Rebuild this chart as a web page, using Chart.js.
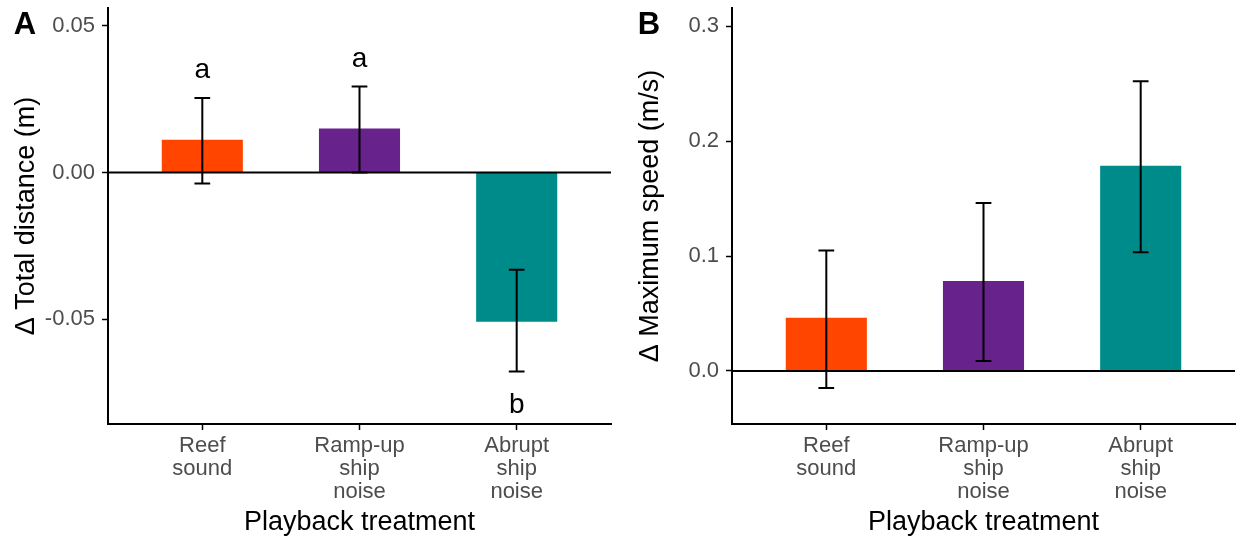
<!DOCTYPE html>
<html>
<head>
<meta charset="utf-8">
<script src="https://cdn.jsdelivr.net/npm/chart.js@4/dist/chart.umd.min.js"></script>
<style>
  body { margin: 0; background: #fff; }
  #wrap { display: flex; width: 1238px; height: 539px; }
  canvas { display: block; }
</style>
</head>
<body>
<div id="wrap">
  <canvas id="chartA" width="620" height="539"></canvas>
  <canvas id="chartB" width="618" height="539"></canvas>
</div>
<script>
// categories (multi-line tick labels)
const categories = [['Reef', 'sound'], ['Ramp-up', 'ship', 'noise'], ['Abrupt', 'ship', 'noise']];
const barColors = ['#FF4500', '#68228B', '#008B8B'];

// panel A: change in total distance (m)
const distanceMeans = [0.0112, 0.0150, -0.0509];
const distanceLower = [-0.0038, 0.0000, -0.0679];
const distanceUpper = [0.0254, 0.0293, -0.0332];
const distanceLetters = ['a', 'a', 'b'];
const distanceLetterY = [0.0321, 0.0359, -0.0819];
const distanceTicks = [-0.05, 0, 0.05];

// panel B: change in maximum speed (m/s)
const speedMeans = [0.0462, 0.0782, 0.1785];
const speedLower = [-0.0147, 0.0087, 0.1032];
const speedUpper = [0.1049, 0.1460, 0.2519];
const speedTicks = [0, 0.1, 0.2, 0.3];

const FONT = "'Liberation Sans', Arial, Helvetica, sans-serif";

// draws zero line, error bars, letters and the panel tag
const extrasPlugin = {
    id: 'extras',
    afterDatasetsDraw(chart, args, opts) {
        const ctx = chart.ctx;
        const x = chart.scales.x;
        const y = chart.scales.y;
        const area = chart.chartArea;
        ctx.save();
        // horizontal line at zero
        ctx.strokeStyle = '#000';
        ctx.lineWidth = 2;
        ctx.beginPath();
        ctx.moveTo(area.left, y.getPixelForValue(0));
        ctx.lineTo(area.right, y.getPixelForValue(0));
        ctx.stroke();

        // error bars
        opts.lower.forEach((lo, i) => {
            const cx = x.getPixelForValue(i);
            const half = (x.getPixelForValue(i + 0.05) - cx);
            const yLo = y.getPixelForValue(lo);
            const yHi = y.getPixelForValue(opts.upper[i]);
            ctx.beginPath();
            ctx.moveTo(cx, yHi);
            ctx.lineTo(cx, yLo);
            ctx.moveTo(cx - half, yHi);
            ctx.lineTo(cx + half, yHi);
            ctx.moveTo(cx - half, yLo);
            ctx.lineTo(cx + half, yLo);
            ctx.stroke();
        });

        // significance letters
        if (opts.letters) {
            ctx.fillStyle = '#000';
            ctx.font = '28px ' + FONT;
            ctx.textAlign = 'center';
            ctx.textBaseline = 'alphabetic';
            opts.letters.forEach((t, i) => {
                ctx.fillText(t, x.getPixelForValue(i), y.getPixelForValue(opts.letterY[i]));
            });
        }

        // panel tag
        ctx.font = 'bold 31px ' + FONT;
        ctx.textAlign = 'center';
        ctx.textBaseline = 'alphabetic';
        ctx.fillStyle = '#000';
        ctx.fillText(opts.tag, opts.tagX, 34);
        ctx.restore();
    }
};

function makePanel(id, cfg) {
    const ctx = document.getElementById(id).getContext('2d');
    return new Chart(ctx, {
        type: 'bar',
        data: {
            datasets: [{
                data: cfg.means.map((v, i) => ({ x: i, y: v })),
                backgroundColor: barColors,
                borderWidth: 0,
                barPercentage: 0.516,
                categoryPercentage: 1
            }]
        },
        options: {
            responsive: false,
            animation: false,
            events: [],
            layout: { padding: { left: 0, right: cfg.padRight, top: 8, bottom: 0 } },
            plugins: {
                legend: { display: false },
                tooltip: { enabled: false },
                extras: {
                    lower: cfg.lower,
                    upper: cfg.upper,
                    letters: cfg.letters,
                    letterY: cfg.letterY,
                    tag: cfg.tag,
                    tagX: cfg.tagX
                }
            },
            scales: {
                x: {
                    type: 'linear',
                    min: -0.6,
                    max: 2.6,
                    offset: false,
                    afterBuildTicks: s => { s.ticks = categories.map((c, i) => ({ value: i })); },
                    afterFit: s => {
                        s.height = 115;
                        s.paddingLeft = 0;
                        s.paddingRight = 0;
                    },
                    ticks: {
                        autoSkip: false,
                        maxRotation: 0,
                        color: '#4d4d4d',
                        padding: 4,
                        font: { family: FONT, size: 22, lineHeight: 1.05 },
                        callback: (v) => categories[v]
                    },
                    grid: {
                        display: true,
                        offset: false,
                        drawOnChartArea: false,
                        drawTicks: true,
                        tickLength: 6,
                        tickColor: '#000',
                        tickWidth: 1.5
                    },
                    border: { display: true, color: '#000', width: 2 },
                    title: {
                        display: true,
                        text: 'Playback treatment',
                        color: '#000',
                        padding: { top: 0, bottom: 0 },
                        font: { family: FONT, size: 27, lineHeight: 1.2 }
                    }
                },
                y: {
                    min: cfg.yMin,
                    max: cfg.yMax,
                    afterBuildTicks: s => { s.ticks = cfg.ticks.map(v => ({ value: v })); },
                    afterFit: s => {
                        s.width = cfg.yWidth;
                        s.paddingTop = 0;
                        s.paddingBottom = 0;
                    },
                    ticks: {
                        color: '#4d4d4d',
                        padding: 7,
                        font: { family: FONT, size: 22 },
                        callback: v => v.toFixed(cfg.decimals)
                    },
                    grid: {
                        display: true,
                        drawOnChartArea: false,
                        drawTicks: true,
                        tickLength: 6,
                        tickColor: '#000',
                        tickWidth: 1.5
                    },
                    border: { display: true, color: '#000', width: 2 },
                    title: {
                        display: true,
                        text: cfg.yTitle,
                        color: '#000',
                        padding: { top: cfg.titlePad, bottom: 0 },
                        font: { family: FONT, size: 27, lineHeight: 1.2 }
                    }
                }
            }
        },
        plugins: [extrasPlugin]
    });
}

makePanel('chartA', {
    means: distanceMeans, lower: distanceLower, upper: distanceUpper,
    letters: distanceLetters, letterY: distanceLetterY,
    yMin: -0.0858, yMax: 0.0561, ticks: distanceTicks, decimals: 2,
    yTitle: '\u0394 Total distance (m)', yWidth: 108, titlePad: 10, padRight: 9,
    tag: 'A', tagX: 25
});

makePanel('chartB', {
    means: speedMeans, lower: speedLower, upper: speedUpper,
    letters: null, letterY: null,
    yMin: -0.0461, yMax: 0.3157, ticks: speedTicks, decimals: 1,
    yTitle: '\u0394 Maximum speed (m/s)', yWidth: 112, titlePad: 14.5, padRight: 3,
    tag: 'B', tagX: 29
});
</script>
</body>
</html>
